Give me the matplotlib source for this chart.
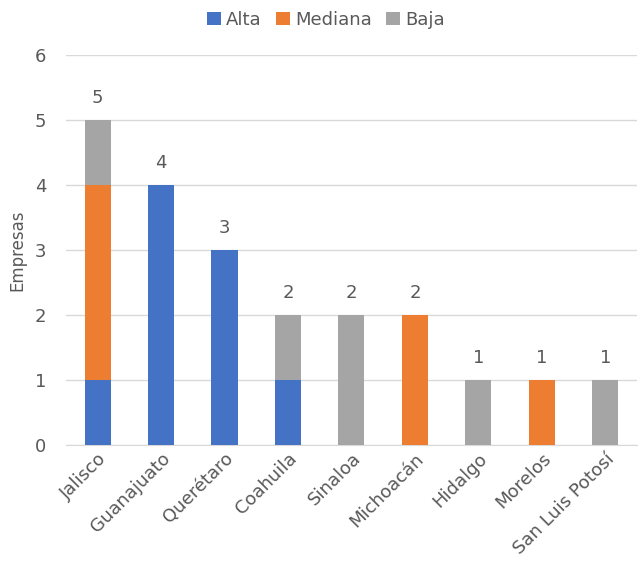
import numpy as np
import matplotlib.pyplot as plt

plt.rcParams['font.family'] = ['DejaVu Sans']

# data
estados = ['Jalisco', 'Guanajuato', 'Querétaro', 'Coahuila', 'Sinaloa',
           'Michoacán', 'Hidalgo', 'Morelos', 'San Luis Potosí']
alta = [1, 4, 3, 1, 0, 0, 0, 0, 0]
mediana = [3, 0, 0, 0, 0, 2, 0, 1, 0]
baja = [1, 0, 0, 1, 2, 0, 1, 0, 1]

gris = '#595959'
fig = plt.figure(figsize=(6.39, 5.61), dpi=100)
ax = fig.add_axes([0.103, 0.207, 0.894, 0.695])

x = np.arange(len(estados))
alta = np.array(alta)
mediana = np.array(mediana)
baja = np.array(baja)
w = 0.41
ax.bar(x, alta, w, color='#4472C4', label='Alta', zorder=3)
ax.bar(x, mediana, w, bottom=alta, color='#ED7D31', label='Mediana', zorder=3)
ax.bar(x, baja, w, bottom=alta + mediana, color='#A5A5A5', label='Baja', zorder=3)

# totales encima de cada barra
total = alta + mediana + baja
for xi, t in zip(x, total):
    ax.annotate(str(t), (xi, t), xytext=(0, 9), textcoords='offset points',
                ha='center', va='bottom', fontsize=13, color=gris)

ax.set_xlim(-0.5, len(estados) - 0.5)
ax.set_ylim(0, 6)
ax.set_yticks(range(7))
ax.grid(axis='y', color='#D9D9D9', linewidth=1, zorder=0)
for s in ['top', 'right', 'left']:
    ax.spines[s].set_visible(False)
ax.spines['bottom'].set_color('#D9D9D9')
ax.tick_params(axis='both', length=0, colors=gris, labelsize=13)
ax.tick_params(axis='y', pad=14)
ax.set_xticks(x)
ax.set_xticklabels(estados, rotation=45, ha='right', rotation_mode='anchor')
ax.set_ylabel('Empresas', fontsize=12, color=gris, labelpad=6)

fig.legend(loc='upper center', bbox_to_anchor=(0.51, 1.01), ncol=3, frameon=False,
           fontsize=13, labelcolor=gris, handlelength=0.75, handleheight=0.75,
           handletextpad=0.3, columnspacing=0.8)

fig.savefig('out.png', dpi=100)
